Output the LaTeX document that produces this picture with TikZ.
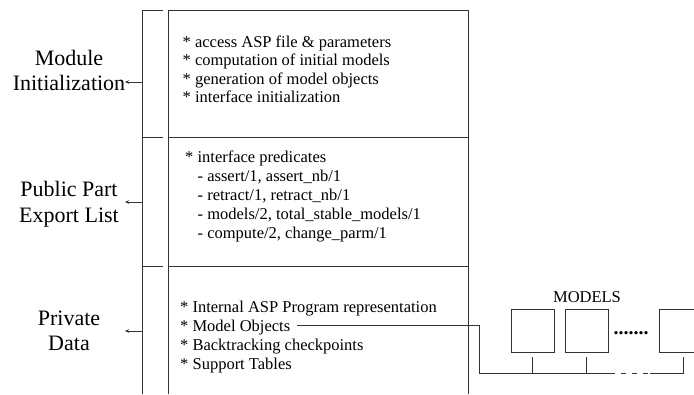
\documentclass[tikz,border=0pt]{standalone}
\usepackage{fontspec}
\setmainfont{Liberation Serif}
\usetikzlibrary{arrows.meta}
\tikzset{
  ln/.style={draw=black!80, line width=0.9pt},
  txt/.style={anchor=base west, inner sep=0pt, font=\fontsize{16.5}{18}\selectfont},
  lbl/.style={anchor=base, inner sep=0pt, font=\fontsize{22}{25}\selectfont},
  arr/.style={ln, -{Stealth[length=4pt,width=3.5pt]}},
  mbox/.style={draw=black!80, line width=0.9pt, minimum width=43pt, minimum height=43pt, inner sep=0pt, anchor=north west},
}
\begin{document}
\begin{tikzpicture}[x=1pt,y=-1pt]
\useasboundingbox (0,0) rectangle (694,394);
\clip (0,0) rectangle (694,394);
% bracket
\coordinate (bt) at (142,10);
\coordinate (bb) at (142,394);
\draw[ln] (bt) -- (bb);
\draw[ln] (142,10) -- (163,10);
\draw[ln] (142,137) -- (163,137);
\draw[ln] (142,266) -- (163,266);
% main box
\draw[ln] (168,394) -- (168,10) -- (468,10) -- (468,394);
\draw[ln] (168,137) -- (468,137);
\draw[ln] (168,266) -- (468,266);
% labels
\node[lbl] (l1a) at (69,65) {Module};
\node[lbl] (l1b) at (69,90.5) {Initialization};
\node[lbl] (l2a) at (69,196.5) {Public Part};
\node[lbl] (l2b) at (69,222) {Export List};
\node[lbl] (l3a) at (69,325) {Private};
\node[lbl] (l3b) at (69,350.5) {Data};
\coordinate (a1s) at (142,82);
\coordinate (a1e) at (125,82);
\coordinate (a2s) at (142,202);
\coordinate (a2e) at (125,202);
\coordinate (a3s) at (142,331);
\coordinate (a3e) at (125,331);
\draw[arr] (a1s) -- (a1e);
\draw[arr] (a2s) -- (a2e);
\draw[arr] (a3s) -- (a3e);
% block 1
\node[txt] (t11) at (182.5,47.5) {* access ASP file \& parameters};
\node[txt] (t12) at (182.5,65.8) {* computation of initial models};
\node[txt] (t13) at (182.5,84.1) {* generation of model objects};
\node[txt] (t14) at (182.5,102.4) {* interface initialization};
% block 2
\node[txt] (t21) at (185,162.5) {* interface predicates};
\node[txt] (t22) at (197.5,181.5) {- assert/1, assert\_nb/1};
\node[txt] (t23) at (197.5,200.5) {- retract/1, retract\_nb/1};
\node[txt] (t24) at (197.5,219.5) {- models/2, total\_stable\_models/1};
\node[txt] (t25) at (197.5,238.5) {- compute/2, change\_parm/1};
% block 3
\node[txt] (t31) at (180,312.3) {* Internal ASP Program representation};
\node[txt] (t32) at (180,331) {* Model Objects};
\node[txt] (t33) at (180,350) {* Backtracking checkpoints};
\node[txt] (t34) at (180,369) {* Support Tables};
% models
\node[anchor=base, inner sep=0pt, font=\fontsize{16.5}{18}\selectfont] (mt) at (587,302) {MODELS};
\node[mbox] (m1) at (511,309) {};
\node[mbox] (m2) at (565,309) {};
\node[mbox] (m3) at (659,309) {};
\node[anchor=base, inner sep=0pt, font=\fontsize{20}{20}\selectfont\bfseries] (dots) at (631,334) {.......};
% connector
\coordinate (c0) at (297,325);
\coordinate (c1) at (479,325);
\coordinate (c2) at (479,373);
\coordinate (d1) at (610,373);
\coordinate (d2) at (650,373);
\coordinate (c3) at (683,373);
\coordinate (k3) at (683,357);
\coordinate (k1) at (532.5,357);
\coordinate (k2) at (586.5,357);
\draw[ln] (c0) -- (c1) -- (c2) -- (d1);
\draw[ln, dash pattern=on 5pt off 6pt] (d1) -- (d2);
\draw[ln] (d2) -- (c3) -- (k3);
\draw[ln] (k1) -- (k1 |- c2);
\draw[ln] (k2) -- (k2 |- c2);
\end{tikzpicture}
\end{document}
